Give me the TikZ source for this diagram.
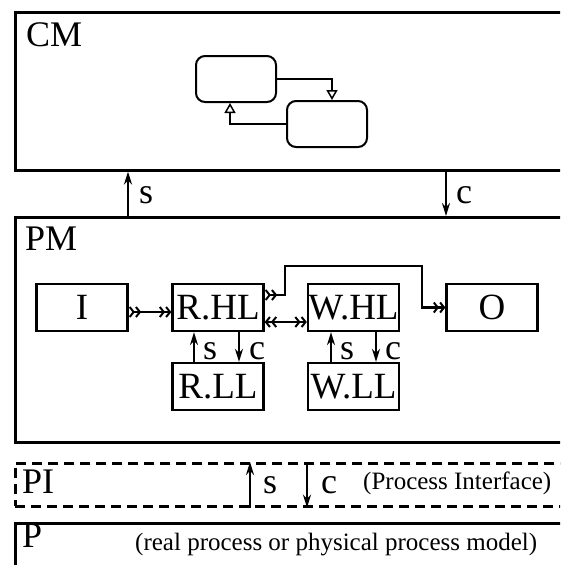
\documentclass[tikz,border=0pt]{standalone}
\usepackage{fontspec}
\setmainfont{Liberation Serif}
\usetikzlibrary{arrows.meta}

\begin{document}
\begin{tikzpicture}[x=1pt,y=-1pt,
	layer/.style={draw,line width=2.6pt,anchor=north west,inner sep=0pt,minimum width=600pt},
	blk/.style={draw,line width=2.3pt,inner sep=0pt,minimum width=91pt,minimum height=47pt,font=\fontsize{37}{37}\selectfont},
	state/.style={draw,line width=2pt,rounded corners=9pt,minimum width=80pt,minimum height=46pt},
	big/.style={inner sep=0pt,anchor=base west,font=\fontsize{36}{36}\selectfont},
	note/.style={inner sep=0pt,anchor=base west,font=\fontsize{25}{25}\selectfont},
	sig/.style={line width=2.1pt,-{Stealth[length=13pt,width=8pt]}},
	trans/.style={line width=2pt,-{Triangle[open,length=10pt,width=11pt,line width=1.5pt]}},
	chev/.tip={Straight Barb[length=4pt,width=10pt,line width=2pt]},
	flow/.style={line width=2.1pt,{chev[reversed]chev[reversed]}-{chev[]chev[]}},
	both/.style={line width=2.1pt,{chev[]chev[]}-{chev[]chev[]}}]

	\useasboundingbox (0,0) rectangle (560,565);
	\clip (0,0) rectangle (560,565);

	% layers
	\node[layer,minimum height=158pt] (CM) at (14,11) {};
	\node[layer,minimum height=225pt] (PM) at (14,216) {};
	\node[layer,minimum height=43pt,dash pattern=on 10pt off 6pt] (PI) at (14,462) {};
	\node[layer,minimum height=100pt] (P) at (14,522) {};

	\node[big] (cmT) at (26,46) {CM};
	\node[big] (pmT) at (25,250) {PM};
	\node[big] (piT) at (22,493) {PI};
	\node[big] (pT) at (22,547) {P};
	\node[note] (piN) at (363,489) {(Process Interface)};
	\node[note] (pN) at (135,550) {(real process or physical process model)};

	% CM states
	\node[state] (sA) at (236,79) {};
	\node[state] (sB) at (327,124) {};
	\draw[trans] (sA.east) -| ([xshift=5pt]sB.north);
	\draw[trans] (sB.west) -| ([xshift=-6pt]sA.south);

	% CM <-> PM
	\coordinate (sx) at (128,0);
	\coordinate (cx) at (446,0);
	\draw[sig] (PM.north -| sx) -- (CM.south -| sx);
	\draw[sig] (CM.south -| cx) -- (PM.north -| cx);
	\node[big] (sT) at (139,203) {s};
	\node[big] (cT) at (456,203) {c};

	% PM blocks
	\node[blk] (I) at (82,307.5) {I};
	\node[blk] (RHL) at (218,307.5) {R.HL};
	\node[blk] (WHL) at (353.5,307.5) {W.HL};
	\node[blk] (O) at (492,307.5) {O};
	\node[blk] (RLL) at (218,386.5) {R.LL};
	\node[blk] (WLL) at (353.5,386.5) {W.LL};

	\coordinate (hop1) at (285,266);
	\coordinate (hop2) at (422,266);
	\draw[flow] ([yshift=-4.5pt]I.east) -- ([yshift=-4.5pt]RHL.west);
	\draw[both] ([yshift=-14.5pt]RHL.east) -- ([yshift=-14.5pt]WHL.west);
	\draw[flow] ([yshift=12.5pt]RHL.east) -| (hop1) -- (hop2) |- (O.west);

	\draw[sig] ([xshift=-24pt]RLL.north) -- ([xshift=-24pt]RHL.south);
	\draw[sig] ([xshift=21pt]RHL.south) -- ([xshift=21pt]RLL.north);
	\draw[sig] ([xshift=-22.5pt]WLL.north) -- ([xshift=-22.5pt]WHL.south);
	\draw[sig] ([xshift=22.5pt]WHL.south) -- ([xshift=22.5pt]WLL.north);
	\node[big] (rs) at (203,359) {s};
	\node[big] (rc) at (249,359) {c};
	\node[big] (ws) at (340,359) {s};
	\node[big] (wc) at (385,359) {c};

	% PI
	\coordinate (psx) at (250,0);
	\coordinate (pcx) at (307,0);
	\draw[sig] (PI.south -| psx) -- (PI.north -| psx);
	\draw[sig] (PI.north -| pcx) -- (PI.south -| pcx);
	\node[big] (piS) at (263,493) {s};
	\node[big] (piC) at (321,493) {c};
\end{tikzpicture}
\end{document}
